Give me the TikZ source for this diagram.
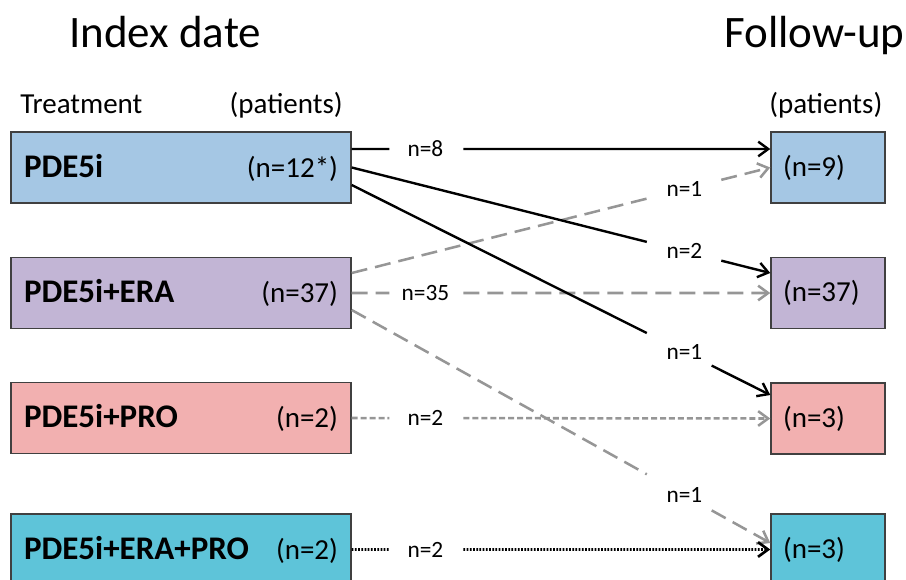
\documentclass[tikz,border=0pt]{standalone}
\usepackage{fontspec}
\setmainfont{Carlito}
\usetikzlibrary{arrows.meta,calc}
\definecolor{cBlue}{RGB}{165,199,228}
\definecolor{cPurple}{RGB}{194,181,213}
\definecolor{cPink}{RGB}{242,176,176}
\definecolor{cCyan}{RGB}{94,196,217}
\definecolor{cLine}{RGB}{64,64,64}
\definecolor{cGray}{RGB}{150,150,150}
\newcommand\flow[7]{%
  \draw[#1] (#2) -- ($(#2)!#4!(#3)$);
  \draw[#1,-{Straight Barb[length=7.5pt,width=11pt]}] ($(#2)!#5!(#3)$) -- (#3);
  \node[lbl] at ($(#2)!#6!(#3)$) {#7};
}
\newcommand\bname[1]{{\bfseries\fontsize{24.75}{28}\selectfont #1}}
\begin{document}
\begin{tikzpicture}[x=0.75pt,y=-0.75pt,
  lbox/.style={draw=cLine, line width=1.1pt, minimum height=53.25pt, text width=235.5pt,
    inner xsep=9.75pt, inner ysep=0pt, font=\fontsize{21.75}{24}\selectfont},
  rbox/.style={draw=cLine, line width=1.1pt, minimum height=53.25pt, text width=67.5pt,
    inner xsep=9pt, inner ysep=0pt, align=left, font=\fontsize{21.75}{24}\selectfont},
  lbl/.style={font=\fontsize{17.5}{20}\selectfont, inner sep=0pt},
  head/.style={font=\fontsize{21.75}{24}\selectfont, inner sep=0pt},
  title/.style={font=\fontsize{33.75}{38}\selectfont, inner sep=0pt},
  blk/.style={black, line width=1.8pt},
  gdash/.style={cGray, line width=1.9pt, dash pattern=on 12pt off 6pt},
  gshort/.style={cGray, line width=1.9pt, dash pattern=on 4.5pt off 2.2pt},
  bdot/.style={black, line width=2pt, dash pattern=on 1.3pt off 1.1pt},
]
\useasboundingbox (0,0) rectangle (906,579);
\clip (0,0) rectangle (906,579);

% titles and headers
\node[title, anchor=base west] (t1) at (69,47) {Index date};
\node[title, anchor=base west] (t2) at (724,47) {Follow-up};
\node[head, anchor=base west] (h1) at (20,113) {Treatment};
\node[head, anchor=base east] (h2) at (343,113) {(patients)};
\node[head, anchor=base west] (h3) at (769,113) {(patients)};

% left boxes
\node[lbox, fill=cBlue]   (L1) at (181,167.5) {\bname{PDE5i}\hfill(n=12*)};
\node[lbox, fill=cPurple] (L2) at (181,293)   {\bname{PDE5i+ERA}\hfill(n=37)};
\node[lbox, fill=cPink]   (L3) at (181,418)   {\bname{PDE5i+PRO}\hfill(n=2)};
\node[lbox, fill=cCyan]   (L4) at (181,549.5) {\bname{PDE5i+ERA+PRO}\hfill(n=2)};

% right boxes
\node[rbox, fill=cBlue]   (R1) at (828,167.5) {(n=9)};
\node[rbox, fill=cPurple] (R2) at (828,293)   {(n=37)};
\node[rbox, fill=cPink]   (R3) at (828,418.5) {(n=3)};
\node[rbox, fill=cCyan]   (R4) at (828,549.5) {(n=3)};

% anchors for connectors
\coordinate (s8)  at ($(L1.east)+(0,-18.5)$);
\coordinate (e8)  at ($(R1.west)+(0,-18.5)$);
\coordinate (s12) at ($(L1.east)+(0,0)$);
\coordinate (e12) at ($(R2.west)+(0,-20)$);
\coordinate (s13) at ($(L1.east)+(0,17.5)$);
\coordinate (e13) at ($(R3.west)+(0,-23.5)$);
\coordinate (s21) at ($(L2.east)+(0,-20)$);
\coordinate (e21) at ($(R1.west)+(0,0)$);
\coordinate (s22) at ($(L2.east)+(0,0)$);
\coordinate (e22) at ($(R2.west)+(0,0)$);
\coordinate (s24) at ($(L2.east)+(0,17)$);
\coordinate (e24) at ($(R4.west)+(0,-6.5)$);
\coordinate (s33) at ($(L3.east)+(0,0)$);
\coordinate (e33) at ($(R3.west)+(0,0)$);
\coordinate (s44) at ($(L4.east)+(0,0)$);
\coordinate (e44) at ($(R4.west)+(0,0)$);

% connectors
\flow{gdash}{s21}{e21}{0.705}{0.883}{0.795}{n=1}
\flow{gdash}{s22}{e22}{0.09}{0.267}{0.176}{n=35}
\flow{gdash}{s24}{e24}{0.705}{0.86}{0.795}{n=1}
\flow{gshort}{s33}{e33}{0.09}{0.267}{0.176}{n=2}
\flow{bdot}{s44}{e44}{0.09}{0.267}{0.176}{n=2}
\flow{blk}{s8}{e8}{0.09}{0.267}{0.176}{n=8}
\flow{blk}{s12}{e12}{0.705}{0.883}{0.795}{n=2}
\flow{blk}{s13}{e13}{0.705}{0.86}{0.795}{n=1}
\end{tikzpicture}
\end{document}
